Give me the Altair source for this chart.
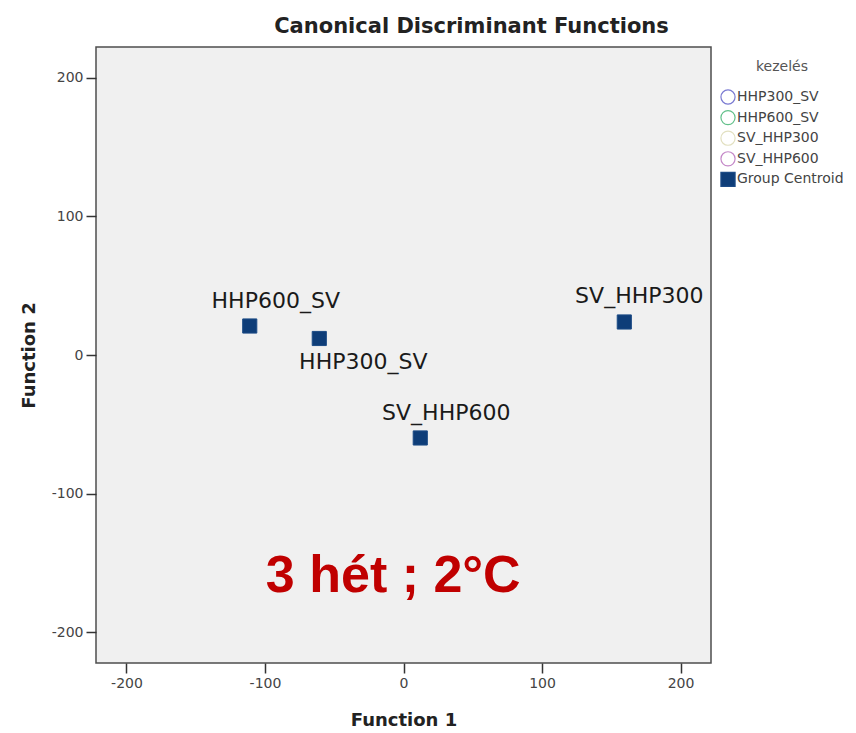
import altair as alt
import pandas as pd

# ---- data ----
groups = ["HHP300_SV", "HHP600_SV", "SV_HHP300", "SV_HHP600"]
centroid_f1 = [-60.8, -111.0, 159.4, 12.1]
centroid_f2 = [11.9, 20.9, 23.8, -59.8]

legend_names = ["HHP300_SV", "HHP600_SV", "SV_HHP300", "SV_HHP600", "Group Centroid"]
tick_values = [-200, -100, 0, 100, 200]

annotation_text = ["3 hét ; 2°C"]
annotation_f1 = [-7.4]
annotation_f2 = [-170.9]

# ---- styles ----
legend_strokes = ["#7b7bd2", "#62c08a", "#e2e0c0", "#c488c8", "#1c4b86"]
legend_fills = ["#ffffff", "#ffffff", "#ffffff", "#ffffff", "#0e3d78"]
legend_shapes = ["circle", "circle", "circle", "circle", "square"]
legend_sizes = [200, 200, 200, 200, 280]
label_offsets = {
    "HHP300_SV": (44, 31),
    "HHP600_SV": (26, -18),
    "SV_HHP300": (15, -19),
    "SV_HHP600": (26, -18),
}

centroids = pd.DataFrame({
    "group": groups,
    "f1": centroid_f1,
    "f2": centroid_f2,
    "kezelés": ["Group Centroid"] * len(groups),
})
annot = pd.DataFrame({"t": annotation_text, "f1": annotation_f1, "f2": annotation_f2})

dom = [-222, 222]
xscale = alt.Scale(domain=dom, nice=False, zero=False)
yscale = alt.Scale(domain=dom, nice=False, zero=False)

axis_common = dict(
    values=tick_values, grid=False, domain=False, tickSize=10, tickWidth=1.5,
    tickColor="#333333", labelFont="DejaVu Sans", labelFontSize=14,
    labelColor="#444444", titleFont="DejaVu Sans", titleFontSize=18,
    titleFontWeight="bold", titleColor="#222222", labelExpr="'' + datum.value",
)

legend = alt.Legend(
    title="kezelés", orient="none", legendX=624, legendY=13,
    titleFont="DejaVu Sans", titleFontSize=14, titleFontWeight="normal",
    titleColor="#555555", titleAnchor="middle", titleAlign="center", titlePadding=15,
    labelFont="DejaVu Sans", labelFontSize=14, labelColor="#444444",
    labelOffset=1, rowPadding=0.6, symbolStrokeWidth=1.2, symbolOpacity=1,
)

x_enc = alt.X("f1:Q", scale=xscale, title="Function 1",
              axis=alt.Axis(labelPadding=3, titlePadding=21, **axis_common))
y_enc = alt.Y("f2:Q", scale=yscale, title="Function 2",
              axis=alt.Axis(labelPadding=3, titlePadding=13, **axis_common))

points = alt.Chart(centroids).mark_point(opacity=1, strokeWidth=1).encode(
    x=x_enc,
    y=y_enc,
    shape=alt.Shape("kezelés:N", scale=alt.Scale(domain=legend_names, range=legend_shapes), legend=legend),
    fill=alt.Fill("kezelés:N", scale=alt.Scale(domain=legend_names, range=legend_fills), legend=legend),
    stroke=alt.Stroke("kezelés:N", scale=alt.Scale(domain=legend_names, range=legend_strokes), legend=legend),
    size=alt.Size("kezelés:N", scale=alt.Scale(domain=legend_names, range=legend_sizes), legend=legend),
)

label_layers = []
for g in groups:
    dx, dy = label_offsets[g]
    label_layers.append(
        alt.Chart(centroids).transform_filter(alt.datum.group == g).mark_text(
            dx=dx, dy=dy, align="center", baseline="alphabetic",
            font="DejaVu Sans", fontSize=22, color="#1a1a1a",
        ).encode(x=alt.X("f1:Q", scale=xscale), y=alt.Y("f2:Q", scale=yscale), text="group:N")
    )

annotation = alt.Chart(annot).mark_text(
    align="center", baseline="alphabetic", font="Liberation Sans",
    fontSize=52, fontWeight="bold", color="#c00000",
).encode(x=alt.X("f1:Q", scale=xscale), y=alt.Y("f2:Q", scale=yscale), text="t:N")

chart = alt.layer(points, *label_layers, annotation).properties(
    width=615, height=616,
    autosize=alt.AutoSizeParams(type="none"),
    padding={"left": 96, "top": 47, "right": 145, "bottom": 70},
    title=alt.TitleParams(
        "Canonical Discriminant Functions", font="DejaVu Sans", fontSize=21,
        fontWeight="bold", color="#222222", anchor="middle", dx=68,
        baseline="alphabetic", offset=-7,
    ),
).configure(background="white").configure_view(
    fill="#f0f0f0", stroke="#4d4d4d", strokeWidth=1.5
)

chart.save("out.html", embed_options={"renderer": "svg", "actions": False})
